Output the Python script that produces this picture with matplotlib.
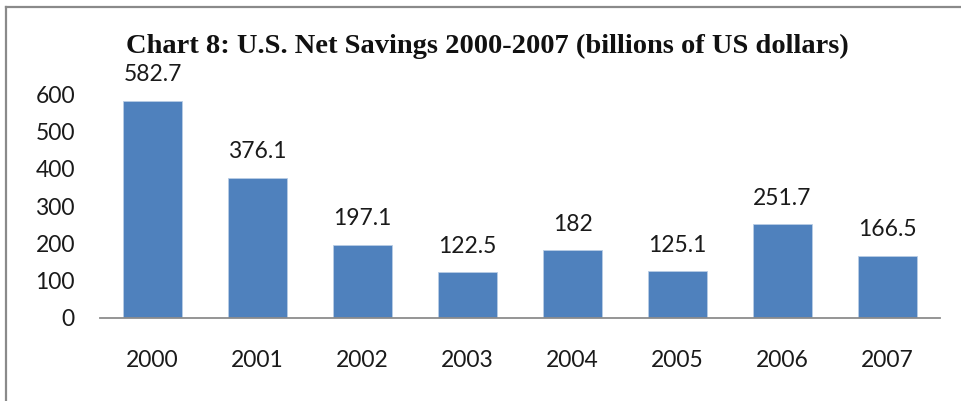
import matplotlib.pyplot as plt
from matplotlib.lines import Line2D

years = ["2000", "2001", "2002", "2003", "2004", "2005", "2006", "2007"]
savings = [582.7, 376.1, 197.1, 122.5, 182, 125.1, 251.7, 166.5]
value_labels = ["582.7", "376.1", "197.1", "122.5", "182", "125.1", "251.7", "166.5"]
y_ticks = [0, 100, 200, 300, 400, 500, 600]

W, H = 962, 401
fig = plt.figure(figsize=(W / 100, H / 100), dpi=100)
fig.patch.set_facecolor("white")

# plot area in pixel terms from the reference
left, right, bottom, top = 100, 940, 318, 57
ax = fig.add_axes([left / W, (H - bottom) / H, (right - left) / W, (bottom - top) / H])

x = range(len(years))
ax.bar(x, savings, width=0.57, color="#4F81BD", edgecolor="#B9CDE5", linewidth=0.6)
ax.set_xlim(-0.5, len(years) - 0.5)
ax.set_ylim(0, 700)

for xi, v, lab in zip(x, savings, value_labels):
    ax.annotate(lab, (xi, v), xytext=(0, 26), textcoords="offset pixels",
                ha="center", va="center", fontsize=16.5, family="Lato", color="#1a1a1a")

ax.set_xticks(list(x))
ax.set_xticklabels(years, fontsize=16.5, family="Lato", color="#1a1a1a")
ax.set_yticks(y_ticks)
ax.set_yticklabels([str(t) for t in y_ticks], fontsize=16.5, family="Lato", color="#1a1a1a")
ax.tick_params(axis="x", length=0, pad=23)
ax.tick_params(axis="y", length=0, pad=18)

for s in ["top", "right", "left"]:
    ax.spines[s].set_visible(False)
ax.spines["bottom"].set_color("#8c8c8c")
ax.spines["bottom"].set_linewidth(1.3)

fig.text(487 / W, 1 - 46 / H, "Chart 8: U.S. Net Savings 2000-2007 (billions of US dollars)",
         ha="center", va="center", fontsize=20.5, fontweight="bold",
         family="Liberation Serif", color="#111111")

# outer chart border (top and left edges visible)
fig.add_artist(Line2D([6 / W, 1], [1 - 7 / H, 1 - 7 / H], transform=fig.transFigure,
                      color="#8a8a8a", linewidth=1.6))
fig.add_artist(Line2D([6 / W, 6 / W], [0, 1 - 7 / H], transform=fig.transFigure,
                      color="#8a8a8a", linewidth=1.6))

fig.savefig("out.png", dpi=100)
